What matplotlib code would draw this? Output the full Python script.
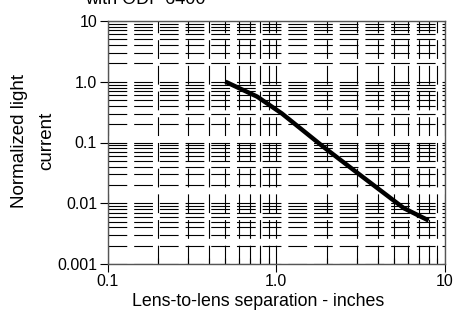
import numpy as np
import matplotlib
matplotlib.use("Agg")
import matplotlib.pyplot as plt
from matplotlib.ticker import FixedLocator, FixedFormatter, LogLocator, NullFormatter

plt.rcParams['font.family'] = ['Liberation Sans', 'DejaVu Sans']
plt.rcParams['lines.scale_dashes'] = False

# lens separation (inches) vs normalized light current
separation = [0.5, 0.77, 1.08, 1.9, 3.1, 5.7, 8.0]
current = [1.0, 0.57, 0.30, 0.085, 0.030, 0.0083, 0.0052]

x_ticks = [0.1, 1.0, 10]
x_labels = ["0.1", "1.0", "10"]
y_ticks = [0.001, 0.01, 0.1, 1.0, 10]
y_labels = ["0.001", "0.01", "0.1", "1.0", "10"]

W, H = 467, 324
fig = plt.figure(figsize=(W / 100, H / 100), dpi=100)
l, r, t, b = 107.5, 445, 21, 264
ax = fig.add_axes([l / W, 1 - b / H, (r - l) / W, (b - t) / H])

ax.set_xscale("log")
ax.set_yscale("log")
ax.set_xlim(0.1, 10)
ax.set_ylim(0.001, 10)

ax.xaxis.set_major_locator(FixedLocator(x_ticks))
ax.xaxis.set_major_formatter(FixedFormatter(x_labels))
ax.yaxis.set_major_locator(FixedLocator(y_ticks))
ax.yaxis.set_major_formatter(FixedFormatter(y_labels))
ax.xaxis.set_minor_locator(LogLocator(base=10, subs=np.arange(2, 10)))
ax.yaxis.set_minor_locator(LogLocator(base=10, subs=np.arange(2, 10)))
ax.xaxis.set_minor_formatter(NullFormatter())
ax.yaxis.set_minor_formatter(NullFormatter())

ax.tick_params(axis="both", which="major", direction="out", length=6, width=0.8,
               labelsize=11.5, colors="black", pad=1.5)
ax.tick_params(axis="x", which="minor", direction="in", length=4, width=0.8)
ax.tick_params(axis="y", which="minor", length=0)

ax.grid(which="both", color="black", lw=0.8, linestyle=(0, (13.5, 5)))
ax.set_axisbelow(True)

for s in ax.spines.values():
    s.set_color("#555555")
    s.set_linewidth(1.0)

ax.plot(separation, current, color="black", lw=3.2, solid_capstyle="butt", zorder=5)

fig.text(258 / W, 1 - 302 / H, "Lens-to-lens separation - inches",
         ha="center", va="center", fontsize=12.8)
fig.text(20 / W, 1 - 141 / H, "Normalized light", rotation=90,
         ha="center", va="center", fontsize=13.5)
fig.text(47 / W, 1 - 141 / H, "current", rotation=90,
         ha="center", va="center", fontsize=13.5)
fig.text(85 / W, 1 - 4 / H, "with ODF 6400", ha="left", va="baseline", fontsize=13)

fig.savefig("out.png", dpi=100)
